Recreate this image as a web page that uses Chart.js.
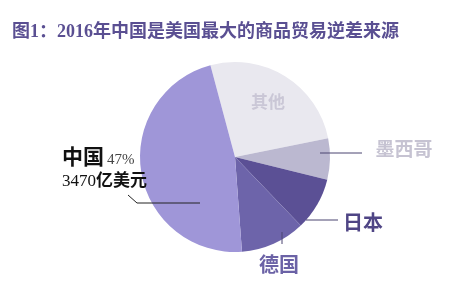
<!DOCTYPE html>
<html>
<head>
<meta charset="utf-8">
<script src="https://cdn.jsdelivr.net/npm/chart.js@4/dist/chart.umd.min.js"></script>
<style>
  html, body { margin: 0; padding: 0; background: #fff; }
  #wrap { width: 475px; height: 298px; position: relative; }
</style>
</head>
<body>
<div id="wrap"><canvas id="pieChart" width="475" height="298"></canvas></div>
<script>
// 2016年美国商品贸易逆差来源（占比 %）
const categories = ['其他', '墨西哥', '日本', '德国', '中国'];
const shares = [26, 7, 9, 11, 47];
const sliceColors = ['#e9e8ef', '#bbb8d0', '#5b5095', '#6d64aa', '#9f96d8'];
const titleText = '图1：2016年中国是美国最大的商品贸易逆差来源';
const chinaValue = '3470亿美元';

const CJK = '"Liberation Serif", "Noto Sans CJK SC", serif';

// 标签与引线（像素位置）
const labelLayout = {
    '其他':  { x: 268, y: 104, size: 17, color: '#cac7d6' },
    '墨西哥': { x: 404, y: 151, size: 19, color: '#c6c3d2', line: [[320, 153], [362, 153]] },
    '日本':  { x: 363, y: 225, size: 20, color: '#4f4585', line: [[306, 220], [338, 220]] },
    '德国':  { x: 279, y: 267, size: 20, color: '#6b62a6', line: [[282, 232], [282, 244]] }
};

const labelPlugin = {
    id: 'sliceLabels',
    afterDraw(chart) {
        const ctx = chart.ctx;
        ctx.save();

        // 标题
        ctx.fillStyle = '#5a4f92';
        ctx.font = 'bold 18px ' + CJK;
        ctx.textAlign = 'left';
        ctx.textBaseline = 'middle';
        ctx.fillText(titleText, 12, 32);

        categories.forEach(function(name, i) {
            const l = labelLayout[name];
            if (!l) return;
            if (l.line) {
                ctx.strokeStyle = '#4a4470';
                ctx.lineWidth = 1;
                ctx.beginPath();
                ctx.moveTo(l.line[0][0], l.line[0][1]);
                ctx.lineTo(l.line[1][0], l.line[1][1]);
                ctx.stroke();
            }
            ctx.fillStyle = l.color;
            ctx.font = 'bold ' + l.size + 'px ' + CJK;
            ctx.textAlign = 'center';
            ctx.textBaseline = 'middle';
            ctx.fillText(name, l.x, l.y);
        });

        // 中国：名称、占比、金额
        const ci = categories.indexOf('中国');
        ctx.textAlign = 'left';
        ctx.textBaseline = 'alphabetic';
        ctx.fillStyle = '#111';
        ctx.font = 'bold 21px ' + CJK;
        ctx.fillText(categories[ci], 62, 164);
        ctx.fillStyle = '#444';
        ctx.font = '15px "Liberation Serif", serif';
        ctx.fillText(shares[ci] + '%', 107, 164);
        ctx.fillStyle = '#111';
        ctx.font = '17px "Liberation Serif", serif';
        const num = chinaValue.slice(0, 4);
        ctx.fillText(num, 62, 186);
        const w = ctx.measureText(num).width;
        ctx.font = 'bold 17px "Noto Sans CJK SC", sans-serif';
        ctx.fillText(chinaValue.slice(4), 62 + w, 186);

        ctx.strokeStyle = '#222';
        ctx.lineWidth = 1;
        ctx.beginPath();
        ctx.moveTo(128, 195);
        ctx.lineTo(137, 203);
        ctx.lineTo(200, 203);
        ctx.stroke();

        ctx.restore();
    }
};

const pieCtx = document.getElementById('pieChart').getContext('2d');
const pieChart = new Chart(pieCtx, {
    type: 'pie',
    data: {
        labels: categories,
        datasets: [{
            data: shares,
            backgroundColor: sliceColors,
            borderWidth: 0,
            hoverOffset: 0
        }]
    },
    options: {
        responsive: false,
        animation: false,
        rotation: -15,
        layout: {
            padding: { left: 140, right: 145, top: 62, bottom: 46 }
        },
        plugins: {
            legend: { display: false },
            tooltip: { enabled: false }
        }
    },
    plugins: [labelPlugin]
});
</script>
</body>
</html>
